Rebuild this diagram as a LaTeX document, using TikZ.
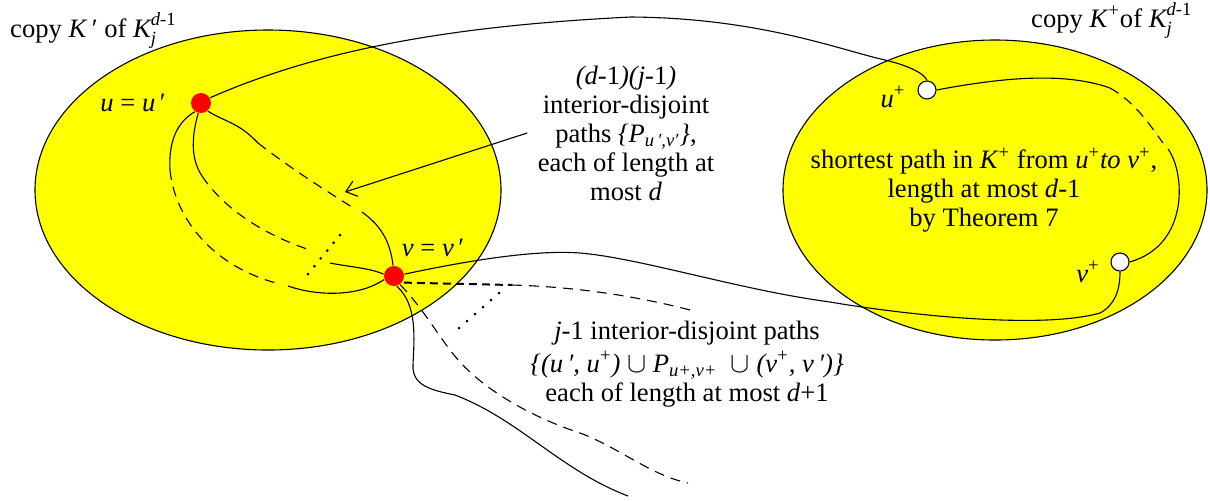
\documentclass[tikz,border=0pt]{standalone}
\usepackage{amsmath}
\usepackage{fontspec}
\setmainfont{Liberation Serif}
\usetikzlibrary{arrows.meta,shapes.geometric}
\definecolor{copyFill}{HTML}{FFFF00}
\definecolor{endDot}{HTML}{FF0000}

\begin{document}
\begin{tikzpicture}[x=0.5pt,y=-0.5pt,font=\fontsize{13.3}{14.5}\selectfont,line width=0.55pt,
    copyK/.style={draw,ellipse,fill=copyFill,inner sep=0pt},
    enddot/.style={circle,fill=endDot,inner sep=0pt,minimum size=10pt},
    plusdot/.style={circle,draw,fill=white,inner sep=0pt,minimum size=9pt},
    broken/.style={dash pattern=on 5pt off 3.5pt},
    pointer/.style={-{Straight Barb[length=5pt,width=8pt]}}]
  \useasboundingbox (0,0) rectangle (1210,500);

  \node[copyK,minimum width=233pt,minimum height=160pt] (Kp) at (268,190) {};
  \node[copyK,minimum width=212pt,minimum height=150pt] (Kq) at (995,190) {};

  \node[anchor=base west] (Kplabel) at (3,37) {copy \textit{K}\,′ of $\textit{K}_{\textit{j}}^{\textit{d}\text{-1}}$};
  \node[anchor=base west] (Kqlabel) at (1024,27) {copy \textit{K}\textsuperscript{+}of $\textit{K}_{\textit{j}}^{\textit{d}\text{-1}}$};

  \node[enddot] (u) at (201,103) {};
  \node[enddot] (v) at (394,276) {};
  \node[plusdot] (up) at (927,90) {};
  \node[plusdot] (vp) at (1120,262) {};
  \node (ulabel) at (133,103) {\textit{u} = \textit{u}\,′};
  \node (vlabel) at (433,248) {\textit{v} = \textit{v}\,′};
  \node (uplabel) at (893,97) {\textit{u}\textsuperscript{+}};
  \node (vplabel) at (1088,272) {\textit{v}\textsuperscript{+}};

  % paths P_{u',v'} inside K'
  \draw (u.235) .. controls (172,125) and (169,150) .. (170,170) coordinate (a1);
  \draw[broken] (a1) .. controls (175,220) and (215,268) .. (280,284) coordinate (b1);
  \draw (b1) ++(8,2) .. controls (320,297) and (360,296) .. (v.200);
  \draw (u.255) .. controls (192,135) and (190,158) .. (202,176) coordinate (a2);
  \draw[broken] (a2) .. controls (225,210) and (265,235) .. (310,250) coordinate (b2);
  \draw (b2) ++(20,13) .. controls (350,267) and (370,268) .. (v.170);
  \draw (u.310) .. controls (225,122) and (238,122) .. (258,143) coordinate (a3);
  \draw[broken] (a3) .. controls (290,168) and (325,190) .. (355,209) coordinate (b3);
  \draw (b3) ++(7,3) .. controls (380,225) and (390,240) .. (v.95);
  \foreach \i in {0,...,5}
    \fill ({308+6.4*\i},{274-7.8*\i}) circle[radius=1.5];

  \node[align=center,inner sep=5pt] (Ptext) at (626,133)
    {\textit{(d}-1\textit{)(j}-1\textit{)}\\ interior-disjoint\\
     paths \textit{\{P}$_{\textit{u\,′,v′}}$\textit{\}},\\ each of length at\\ most \textit{d}};
  \coordinate (tip) at (345,192);
  \draw[pointer] (Ptext.west) -- (tip);

  % shortest path inside K+
  \draw (up.east) .. controls (990,80) and (1060,70) .. (1110,88) coordinate (c1);
  \draw[broken] (c1) .. controls (1135,102) and (1150,125) .. (1163,143) coordinate (c2);
  \draw (c2) ++(5,6) .. controls (1185,172) and (1190,245) .. (vp.east);
  \node[align=center] (Stext) at (984,190)
    {shortest path in \textit{K}\textsuperscript{+} from \textit{u}\textsuperscript{+}\textit{to v}\textsuperscript{+},\\
     length at most \textit{d}-1\\ by Theorem 7};

  % paths through K+
  \draw (u.30) .. controls (330,45) and (470,25) .. (631,17)
    .. controls (760,18) and (840,50) .. (885,60) .. controls (910,66) and (925,74) .. (up.north);
  \draw (v.10) .. controls (480,258) and (540,250) .. (580,253)
    .. controls (640,258) and (740,290) .. (830,302)
    .. controls (900,314) and (1040,330) .. (1100,313) .. controls (1115,305) and (1120,290) .. (vp.south);
  \draw[dash pattern=on 4pt off 2.5pt,line width=1pt] (v.-20) ++(0,3) coordinate (d0) -- (512,285) coordinate (d1);
  \draw[broken] (d1) .. controls (580,287) and (640,297) .. (690,310) coordinate (d2);
  \draw (v.-75) .. controls (418,305) and (414,340) .. (413,365)
    .. controls (412,385) and (430,390) .. (455,395)
    .. controls (520,420) and (560,470) .. (628,496) coordinate (e1);
  \draw[broken] (v.-55) .. controls (425,310) and (440,340) .. (460,362)
    .. controls (490,395) and (540,420) .. (580,433)
    .. controls (620,448) and (650,475) .. (688,483) coordinate (f1);
  \foreach \i in {0,...,5}
    \fill ({459+8*\i},{328-7*\i}) circle[radius=1.5];
  \node[align=center,font=\fontsize{13.3}{14.5}\selectfont] (Qtext) at (687,364)
    {\textit{j}-1 interior-disjoint paths\\[2pt]
     \textit{\{(u\,′, u}\textsuperscript{+}\textit{)} $\cup$ \textit{P}$_{\textit{u+,v+}}$ \ $\cup$ \textit{(v}\textsuperscript{+}\textit{, v\,′)\}}\\
     each of length at most \textit{d}+1};
\end{tikzpicture}
\end{document}
